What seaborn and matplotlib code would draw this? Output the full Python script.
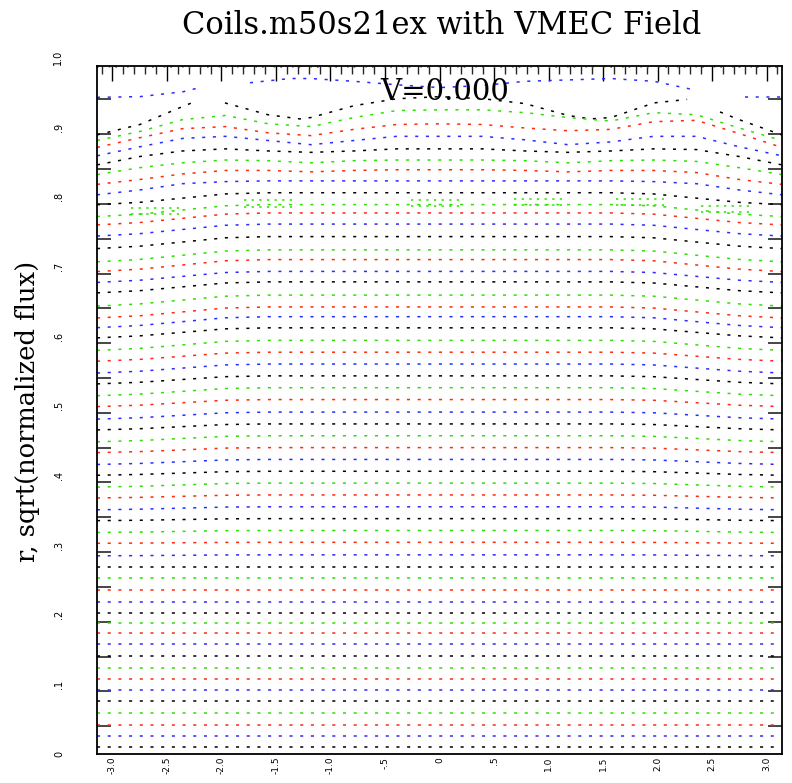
import numpy as np
import pandas as pd
import matplotlib
matplotlib.use("Agg")
import matplotlib.pyplot as plt
import seaborn as sns

sns.set_style("white")
plt.rcParams['font.family'] = ['DejaVu Serif']
plt.rcParams['text.color'] = 'black'

# ------------------------------------------------------------
#  DATA
# ------------------------------------------------------------
title = "Coils.m50s21ex with VMEC Field"
y_label = "r, sqrt(normalized flux)"
tag = "V=0.000"

x_ticks = [-3.0, -2.5, -2.0, -1.5, -1.0, -0.5, 0.0, 0.5, 1.0, 1.5, 2.0, 2.5, 3.0]
x_tick_labels = ["-3.0", "-2.5", "-2.0", "-1.5", "-1.0", "-.5", "0", ".5",
                 "1.0", "1.5", "2.0", "2.5", "3.0"]
y_ticks = [0.0, 0.1, 0.2, 0.3, 0.4, 0.5, 0.6, 0.7, 0.8, 0.9]
y_tick_labels = ["0", ".1", ".2", ".3", ".4", ".5", ".6", ".7", ".8", ".9"]
y_top_label = "1.0"

# theta knots (pi/8 apart) where the surfaces were read
theta_knots = [-3.1416, -2.7489, -2.3562, -1.9635, -1.5708, -1.1781, -0.7854,
               -0.3927, 0.0, 0.3927, 0.7854, 1.1781, 1.5708, 1.9635, 2.3562,
               2.7489, 3.1416]

# inner surfaces, bottom to top: radius at theta = 0
r_center = [0.010, 0.026, 0.042, 0.059, 0.076, 0.092, 0.108, 0.124, 0.141,
            0.158, 0.174, 0.188, 0.203, 0.218, 0.236, 0.253, 0.269, 0.286,
            0.304, 0.321, 0.338, 0.355, 0.372, 0.389, 0.406, 0.423, 0.440,
            0.457, 0.474, 0.491, 0.509, 0.526, 0.543, 0.560, 0.577, 0.594,
            0.612, 0.628, 0.642, 0.659, 0.678, 0.693, 0.710, 0.724, 0.743,
            0.761, 0.777, 0.789, 0.806]
# how far each inner surface sags at theta = +-pi
edge_drop = [0, 0, 0, 0, 0, 0, 0, 0, 0, 0, 0, 0, 0, 0, 0, 0, 0,
             0.0014, 0.0014, 0.0029, 0.0029, 0.0043, 0.0043, 0.0057, 0.0057,
             0.0072, 0.0072, 0.0086, 0.0086, 0.0101, 0.0101, 0.0115, 0.0115,
             0.0129, 0.0129, 0.0144, 0.0144, 0.0158, 0.0158, 0.0158, 0.0158,
             0.0158, 0.0172, 0.0172, 0.0172, 0.0172, 0.0172, 0.0172, 0.0172]
edge_shape = [1.0, 0.8, 0.45, 0.1, 0, 0, 0, 0, 0, 0, 0, 0, 0, 0.1, 0.45, 0.8, 1.0]
inner_colors = ["black", "blue", "red", "green"] * 12 + ["black"]

# island chain on the green surface near r = 0.79 (upper / lower edges)
island_theta = [-2.61, -1.57, -0.04, 0.90, 1.84, 2.62]
island_r_upper = [0.784, 0.795, 0.796, 0.797, 0.797, 0.787]
island_r_lower = [0.776, 0.786, 0.787, 0.788, 0.788, 0.778]
island_half_width = 0.22

# outer wavy surfaces, read at every knot
r_outer = [
    [0.803, 0.810, 0.819, 0.822, 0.823, 0.823, 0.823, 0.823, 0.823,
     0.823, 0.823, 0.823, 0.823, 0.822, 0.819, 0.810, 0.803],
    [0.818, 0.825, 0.833, 0.838, 0.838, 0.836, 0.838, 0.839, 0.839,
     0.839, 0.838, 0.836, 0.838, 0.838, 0.835, 0.825, 0.818],
    [0.832, 0.842, 0.849, 0.853, 0.852, 0.849, 0.852, 0.853, 0.853,
     0.853, 0.852, 0.849, 0.852, 0.853, 0.851, 0.842, 0.832],
    [0.846, 0.858, 0.866, 0.869, 0.866, 0.864, 0.866, 0.869, 0.869,
     0.869, 0.866, 0.864, 0.866, 0.869, 0.868, 0.858, 0.846],
    [0.859, 0.872, 0.884, 0.887, 0.881, 0.875, 0.881, 0.887, 0.887,
     0.887, 0.882, 0.875, 0.879, 0.887, 0.887, 0.872, 0.859],
    [0.871, 0.885, 0.898, 0.901, 0.892, 0.888, 0.897, 0.904, 0.905,
     0.904, 0.899, 0.895, 0.897, 0.908, 0.910, 0.891, 0.871],
    [0.881, 0.894, 0.911, 0.917, 0.905, 0.901, 0.914, 0.924, 0.925,
     0.925, 0.921, 0.914, 0.909, 0.921, 0.918, 0.899, 0.881],
]
outer_colors = ["blue", "red", "green", "black", "blue", "red", "green"]

# broken last surfaces (pieces between the gaps)
black_theta = [[-3.1416, -2.748, -2.353, -2.225],
               [-1.968, -1.573, -1.280, -1.179, -0.784, -0.390, 0.0, 0.399,
                0.784, 1.179, 1.381, 1.573, 1.968, 2.271],
               [2.573, 2.748, 3.1416]]
black_r = [[0.889, 0.904, 0.930, 0.938],
           [0.935, 0.918, 0.912, 0.914, 0.931, 0.941, 0.944, 0.941,
            0.934, 0.917, 0.912, 0.914, 0.935, 0.940],
           [0.922, 0.911, 0.889]]
blue_theta = [[-3.1416, -2.748, -2.353, -2.225],
              [-1.738, -1.372, -1.179, -0.784, -0.390, 0.0, 0.399, 0.784,
               1.179, 1.573, 1.968, 2.298],
              [2.803, 3.1416]]
blue_r = [[0.943, 0.944, 0.951, 0.956],
          [0.964, 0.970, 0.970, 0.966, 0.961, 0.957, 0.960, 0.966,
           0.968, 0.970, 0.966, 0.955],
          [0.943, 0.943]]

# stray points pinned along the top frame
top_edge_r = 0.986
top_edge_colors = ["red", "green"]

line_colors = {"black": "#000000", "blue": "#2b2bff", "red": "#ff2a10", "green": "#2ee000"}

# ------------------------------------------------------------
#  BUILD LONG TABLES
# ------------------------------------------------------------
rows = []
seg = 0
for r0, drop, c in zip(r_center, edge_drop, inner_colors):
    for th, w in zip(theta_knots, edge_shape):
        rows.append((seg, c, th, r0 - drop * w))
    seg += 1
for rr, c in zip(r_outer, outer_colors):
    for th, r in zip(theta_knots, rr):
        rows.append((seg, c, th, r))
    seg += 1
for thetas, radii, c in [(black_theta, black_r, "black"), (blue_theta, blue_r, "blue")]:
    for tt, rr in zip(thetas, radii):
        for th, r in zip(tt, rr):
            rows.append((seg, c, th, r))
        seg += 1
df = pd.DataFrame(rows, columns=["seg", "color", "theta", "r"])

isl = []
i = 0
for tc, ru, rl in zip(island_theta, island_r_upper, island_r_lower):
    for r in (ru, rl):
        isl.append((i, "green", tc - island_half_width, r))
        isl.append((i, "green", tc + island_half_width, r))
        i += 1
df_isl = pd.DataFrame(isl, columns=["seg", "color", "theta", "r"])

# ------------------------------------------------------------
#  PLOT
# ------------------------------------------------------------
fig = plt.figure(figsize=(7.92, 7.83), dpi=100)
ax = fig.add_axes([97 / 792, 29 / 783, 685 / 792, 688 / 783])

sns.lineplot(data=df, x="theta", y="r", hue="color", units="seg",
             estimator=None, sort=False, palette=line_colors,
             legend=False, ax=ax, linewidth=1.1, linestyle=(0, (2, 5)))
sns.lineplot(data=df_isl, x="theta", y="r", hue="color", units="seg",
             estimator=None, sort=False, palette=line_colors,
             legend=False, ax=ax, linewidth=1.1, linestyle=(0, (1.5, 3.5)))
for i, c in enumerate(top_edge_colors):
    sns.lineplot(x=[-np.pi, np.pi], y=[top_edge_r, top_edge_r], color=line_colors[c],
                 ax=ax, linewidth=1.2, linestyle=(4 * i, (1, 10)))

ax.set_xlim(-np.pi, np.pi)
ax.set_ylim(0, 0.988)
ax.set_xlabel("")
ax.set_ylabel("")
ax.set_xticks(x_ticks)
ax.set_xticklabels(x_tick_labels, rotation=90, fontsize=6.5, family="DejaVu Sans")
ax.set_yticks(y_ticks)
ax.set_yticklabels(y_tick_labels, rotation=90, fontsize=7, family="DejaVu Sans", va="center")
ax.set_xticks(np.arange(-3.1, 3.15, 0.1), minor=True)
ax.set_yticks(np.arange(0.04, 0.99, 0.05), minor=True)
ax.tick_params(axis="x", which="major", direction="in", length=11, width=1,
               top=True, pad=2, colors="black")
ax.tick_params(axis="x", which="minor", direction="in", length=6, width=1, top=True)
ax.tick_params(axis="y", which="major", length=0, pad=23.5, colors="black")
ax.tick_params(axis="y", which="minor", direction="in", length=10, width=1.2,
               left=True, right=True)
for s in ax.spines.values():
    s.set_color("black")
    s.set_linewidth(1.3)

ax.text(-0.0496, 1.0, y_top_label, transform=ax.get_yaxis_transform(),
        rotation=90, ha="right", va="center", fontsize=7, family="DejaVu Sans",
        clip_on=False)
fig.text(28 / 792, 0.475, y_label, rotation=90, ha="center", va="center", fontsize=18.5)
fig.text(0.557, 0.967, title, ha="center", va="center", fontsize=22)
ax.text(0.05, 0.951, tag, ha="center", va="center", fontsize=21)

fig.savefig("out.png", dpi=100)
